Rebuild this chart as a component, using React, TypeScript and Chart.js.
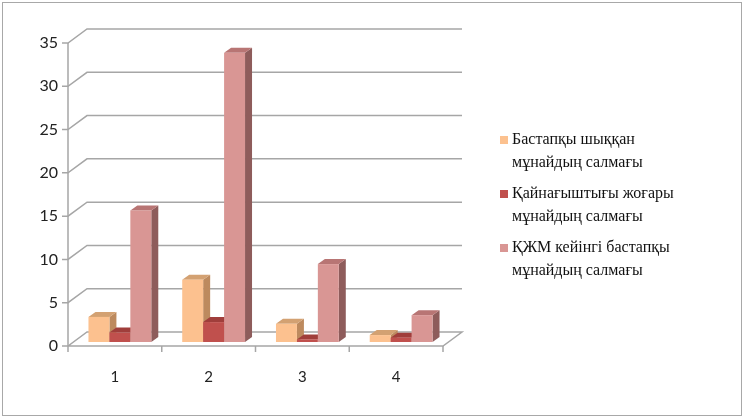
import { useEffect, useRef } from 'react';
import { Chart, registerables } from 'chart.js';

Chart.register(...registerables);

// categories on the x axis
const categories = ['1', '2', '3', '4'];

// legend labels, split in two lines like in the picture
const seriesLabels = [
    ['Бастапқы шыққан', 'мұнайдың салмағы'],
    ['Қайнағыштығы жоғары', 'мұнайдың салмағы'],
    ['ҚЖМ кейінгі бастапқы', 'мұнайдың салмағы'],
];

// series values
const initialOil = [2.9, 7.2, 2.1, 0.8];
const highBoiling = [1.1, 2.3, 0.3, 0.5];
const afterKzhm = [15.2, 33.4, 9.0, 3.1];

// y axis range
const yMax = 35;
const yStep = 5;

// face colours per series: front, top, side
const frontColors = ['#fcc18f', '#c0504d', '#d99694'];
const topColors = ['#d3a172', '#a03e3b', '#b87574'];
const sideColors = ['#bd8a5e', '#8c3330', '#8e5c5b'];

// fake 3D offsets
const WALL_DX = 19, WALL_DY = -14;
const BAR_DX = 5, BAR_DY = -4;
const SIDE_DX = 7, SIDE_DY = -5;

const poly = (ctx: any, pts: number[][], fill: string) => {
    ctx.beginPath();
    ctx.moveTo(pts[0][0], pts[0][1]);
    for (let i = 1; i < pts.length; i++) ctx.lineTo(pts[i][0], pts[i][1]);
    ctx.closePath();
    ctx.fillStyle = fill;
    ctx.fill();
};

// draws the walls, floor and box-shaped bars, and skips the flat default bars
const box3d = {
    id: 'box3d',
    beforeDatasetsDraw(chart: any) {
        const { ctx, chartArea: { left, right, bottom }, scales: { y } } = chart;
        ctx.save();
        ctx.strokeStyle = '#a6a6a6';
        ctx.lineWidth = 1.5;

        // gridlines on the back wall, linked to the axis ticks
        y.ticks.forEach((t: any) => {
            const py = y.getPixelForValue(t.value);
            ctx.beginPath();
            ctx.moveTo(left - 6, py);
            ctx.lineTo(left, py);
            ctx.lineTo(left + WALL_DX, py + WALL_DY);
            ctx.lineTo(right + WALL_DX, py + WALL_DY);
            if (t.value === 0) {
                ctx.lineTo(right, py);
                ctx.lineTo(left, py);
            }
            ctx.stroke();
        });

        // value axis line
        ctx.beginPath();
        ctx.moveTo(left, y.getPixelForValue(yMax));
        ctx.lineTo(left, bottom);
        // category ticks
        const n = categories.length;
        for (let i = 0; i <= n; i++) {
            const bx = left + (i * (right - left)) / n;
            ctx.moveTo(bx, bottom);
            ctx.lineTo(bx, bottom + 6);
        }
        ctx.stroke();

        // bars, left to right so the next front face covers the previous side
        for (let i = 0; i < n; i++) {
            chart.data.datasets.forEach((_ds: any, d: number) => {
                const bar = chart.getDatasetMeta(d).data[i];
                const { x, y: ty, base, width } = bar.getProps(['x', 'y', 'base', 'width'], true);
                const x0 = x - width / 2 + BAR_DX;
                const x1 = x + width / 2 + BAR_DX;
                const y0 = ty + BAR_DY;
                const y1 = base + BAR_DY;
                poly(ctx, [[x1, y1], [x1 + SIDE_DX, y1 + SIDE_DY], [x1 + SIDE_DX, y0 + SIDE_DY], [x1, y0]], sideColors[d]);
                poly(ctx, [[x0, y0], [x0 + SIDE_DX, y0 + SIDE_DY], [x1 + SIDE_DX, y0 + SIDE_DY], [x1, y0]], topColors[d]);
                ctx.fillStyle = frontColors[d];
                ctx.fillRect(x0, y0, x1 - x0, y1 - y0);
            });
        }
        ctx.restore();
        return false;
    },
};

// two-line legend on the right
const sideLegend = {
    id: 'sideLegend',
    afterDraw(chart: any) {
        const { ctx } = chart;
        ctx.save();
        ctx.font = '16px "Liberation Serif"';
        ctx.textBaseline = 'middle';
        seriesLabels.forEach((lines, d) => {
            const top = 140 + d * 54;
            ctx.fillStyle = frontColors[d];
            ctx.fillRect(500, top - 4, 8, 8);
            ctx.fillStyle = '#111';
            lines.forEach((line, k) => ctx.fillText(line, 512, top + k * 23));
        });
        ctx.restore();
    },
};

const App = () => {
    const canvasRef = useRef(null);
    const chartRef = useRef(null);

    useEffect(() => {
        if (!canvasRef.current) return;
        if (chartRef.current) chartRef.current.destroy();

        chartRef.current = new Chart(canvasRef.current, {
            type: 'bar',
            data: {
                labels: categories,
                datasets: [initialOil, highBoiling, afterKzhm].map((data, d) => ({
                    label: seriesLabels[d].join(' '),
                    data,
                    backgroundColor: frontColors[d],
                    barPercentage: 1,
                    categoryPercentage: 0.67,
                })),
            },
            options: {
                responsive: true,
                maintainAspectRatio: false,
                animation: false,
                layout: { padding: { left: 28, top: 43, right: 301, bottom: 32 } },
                plugins: {
                    legend: { display: false },
                    tooltip: { enabled: false },
                },
                scales: {
                    x: {
                        grid: { display: false, drawTicks: false },
                        border: { display: false },
                        ticks: { padding: 22, color: '#222', font: { family: 'Lato', size: 15 } },
                        afterFit: (s: any) => { s.height = 40; },
                    },
                    y: {
                        min: 0,
                        max: yMax,
                        grid: { display: false, drawTicks: false },
                        border: { display: false },
                        ticks: { stepSize: yStep, padding: 10, color: '#222', font: { family: 'Lato', size: 16 } },
                        afterFit: (s: any) => { s.width = 40; },
                    },
                },
            },
            plugins: [box3d, sideLegend],
        } as any);

        return () => { if (chartRef.current) chartRef.current.destroy(); };
    }, []);

    return (
        <div style={{ position: 'fixed', left: 0, top: 0, width: 744, height: 418, background: '#fff' }}>
            <div style={{ position: 'absolute', left: 2, top: 2, right: 2, bottom: 2, border: '1.5px solid #a8a8a8' }} />
            <canvas ref={canvasRef}></canvas>
        </div>
    );
};

export default App;
